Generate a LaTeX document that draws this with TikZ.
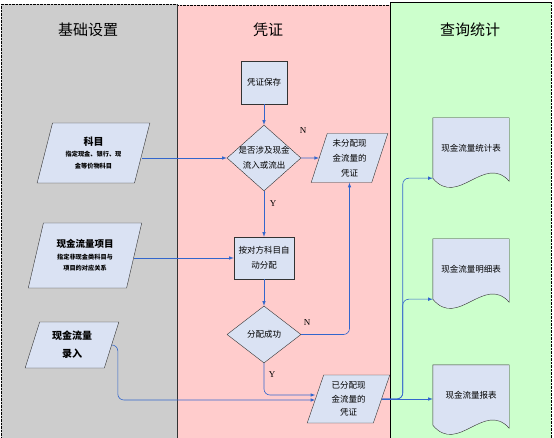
\documentclass[tikz,border=0pt]{standalone}
\usepackage{fontspec}
\setmainfont{Liberation Serif}
\newfontfamily\cjk{Noto Sans CJK SC}
\usepackage{tikz}
\usepackage{xcolor}
\usetikzlibrary{shapes.geometric}
\definecolor{lanegray}{RGB}{205,205,205}
\definecolor{lanepink}{RGB}{255,204,204}
\definecolor{lanegreen}{RGB}{204,255,204}
\definecolor{boxfill}{RGB}{218,226,243}
\definecolor{flow}{RGB}{51,102,204}
\pgfdeclarelayer{bg}
\pgfsetlayers{bg,main}

\begin{document}
\begin{tikzpicture}[x=1pt,y=-1pt,
  lanetitle/.style={font=\cjk\fontsize{15}{18}\selectfont},
  box/.style={draw=black!80, fill=boxfill, align=center, inner sep=1pt,
    font=\cjk\fontsize{8.5}{15}\selectfont},
  rectbox/.style={box, rectangle},
  decision/.style={box, diamond, inner sep=-2pt},
  para/.style={box, trapezium, trapezium left angle=72, trapezium right angle=108,
    trapezium stretches=true, inner sep=0pt},
  small/.style={font=\cjk\bfseries\fontsize{6.2}{11.5}\selectfont},
  docbox/.style={align=center, minimum width=76pt, minimum height=60pt,
    font=\cjk\fontsize{8.5}{11}\selectfont},
  line/.style={draw=flow, -latex, line width=0.6pt, rounded corners=6pt},
  lbl/.style={font=\fontsize{9}{10}\selectfont}]
\useasboundingbox (0,0) rectangle (554,438);

% Titel der Bahnen
\node[lanetitle] (t1) at (88,30) {基础设置};
\node[lanetitle] (t2) at (268,30) {凭证};
\node[lanetitle] (t3) at (470,30) {查询统计};

% Basisdaten
\node[para, small, minimum width=113pt, minimum height=60pt] (km) at (93.5,153)
  {{\fontsize{10}{13}\selectfont 科目}\\指定现金、银行、现\\金等价物科目};
\node[para, small, minimum width=114pt, minimum height=65pt] (xm) at (85,255.5)
  {{\fontsize{9.5}{13}\selectfont 现金流量项目}\\指定非现金类科目与\\项目的对应关系};
\node[para, minimum width=94pt, minimum height=46pt,
  font=\cjk\bfseries\fontsize{10}{18}\selectfont] (lr) at (72,345) {现金流量\\录入};

% Belege
\node[rectbox, minimum width=46pt, minimum height=43pt] (bc) at (264,82.5) {凭证保存};
\node[decision, minimum width=74pt, minimum height=57pt] (d1) at (264,158) {是否涉及现金\\流入或流出};
\node[para, minimum width=77pt, minimum height=49pt] (wfp) at (349.5,158) {未分配现\\金流量的\\凭证};
\node[rectbox, minimum width=60pt, minimum height=42pt] (fp) at (264,258) {按对方科目自\\动分配};
\node[decision, minimum width=74pt, minimum height=57pt] (d2) at (264,334.5) {分配成功};
\node[para, minimum width=83pt, minimum height=48pt,
  font=\cjk\fontsize{8.5}{13.5}\selectfont] (yfp) at (348.5,399) {已分配现\\金流量的\\凭证};

% Auswertung
\node[docbox] (tj) at (471,148) {现金流量统计表};
\node[docbox] (mx) at (471,269) {现金流量明细表};
\node[docbox] (bb) at (471,395) {现金流量报表};

% Verbindungen
\draw[line] (bc) -- (d1);
\draw[line] (d1) -- (wfp);
\draw[line] (d1) -- (fp);
\draw[line] (d1.west -| km.east) -- (d1.west);
\draw[line] (fp.west -| xm.east) -- (fp.west);
\draw[line] (fp) -- (d2);
\draw[line] (d2.east) -| (wfp.south);
\draw[line] (d2.south) |- ([yshift=4pt]yfp.west);
\draw[line] (lr.east) -- ++(6pt,0) |- ([yshift=-1pt]yfp.west);
\draw[line] (yfp.east) -- (bb.west |- yfp.east);
\draw[line] (yfp.east) -- ++(21pt,0) |- (mx.south west);
\draw[line] (yfp.east) -- ++(21pt,0) |- (tj.south west);

\node[lbl] (n1) at (303,131) {N};
\node[lbl] (y1) at (273,204) {Y};
\node[lbl] (n2) at (307,323) {N};
\node[lbl] (y2) at (272,375) {Y};

% Hintergrund
\begin{pgfonlayer}{bg}
\fill[lanegray] (1,4) rectangle (177,440);
\fill[lanepink] (177,5) rectangle (390,440);
\fill[lanegreen] (390,2) rectangle (551,440);
\draw[densely dotted] (1,440) -- (1,4) -- (177,4);
\draw[densely dotted] (177,5) -- (390,5);
\draw[densely dotted] (551,2) -- (551,440);
\draw[black!80] (177,4) -- (177,440);
\draw[black] (390,440) -- (390,2) -- (551,2);
\foreach \d in {tj,mx,bb}
  \draw[black!80, fill=boxfill] (\d.north west) -- (\d.north east) -- ([yshift=-3pt]\d.south east)
    .. controls +(-25pt,28pt) and +(25pt,-30pt) .. (\d.south west) -- cycle;
\end{pgfonlayer}
\end{tikzpicture}
\end{document}
